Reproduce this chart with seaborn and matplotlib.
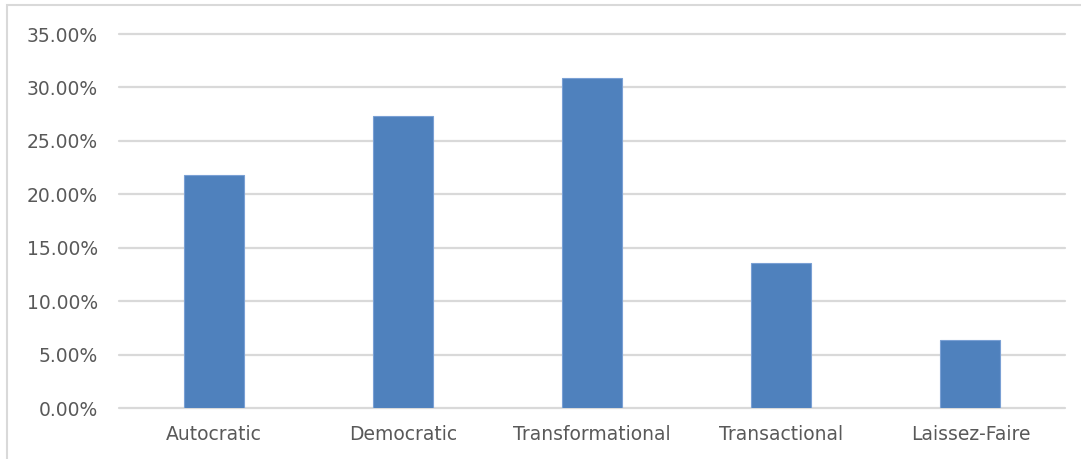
import seaborn as sns
import pandas as pd
import matplotlib.pyplot as plt
from matplotlib.ticker import PercentFormatter
from matplotlib.patches import Rectangle

# leadership style shares
styles = ['Autocratic', 'Democratic', 'Transformational', 'Transactional', 'Laissez-Faire']
shares = [0.218, 0.273, 0.309, 0.136, 0.064]
yticks = [0.0, 0.05, 0.10, 0.15, 0.20, 0.25, 0.30, 0.35]

df = pd.DataFrame({'style': styles, 'share': shares})

sns.set_style('white')
plt.rcParams['font.family'] = ['DejaVu Sans Condensed', 'DejaVu Sans']

fig = plt.figure(figsize=(10.81, 4.59), dpi=100)
ax = fig.add_axes([119 / 1081, 1 - 408 / 459, (1065 - 119) / 1081, (408 - 34) / 459])

sns.barplot(data=df, x='style', y='share', color='#4f81bd', width=0.317,
            edgecolor='#7aa0d4', linewidth=0.8, saturation=1, ax=ax, zorder=3)

ax.set_ylim(0, 0.35)
ax.set_xlim(-0.5, len(styles) - 0.5)
ax.set_yticks(yticks)
ax.yaxis.set_major_formatter(PercentFormatter(1.0, decimals=2))
ax.yaxis.grid(True, color='#d9d9d9', linewidth=1.6, zorder=0)
for gl in ax.get_ygridlines():
    gl.set_clip_on(False)
ax.set_axisbelow(True)
for s in ax.spines.values():
    s.set_visible(False)
ax.set_xlabel('')
ax.set_ylabel('')
ax.tick_params(axis='both', length=0, labelsize=13.5, labelcolor='#595959')
ax.tick_params(axis='y', pad=15)
ax.tick_params(axis='x', pad=12)

# chart area border (left and top edges visible in the crop)
fig.patches.append(Rectangle((7 / 1081, -0.1), 1.2, 1 - 5 / 459 + 0.1,
                             transform=fig.transFigure, fill=False,
                             edgecolor='#d9d9d9', linewidth=1.5))

fig.savefig('out.png', dpi=100)
